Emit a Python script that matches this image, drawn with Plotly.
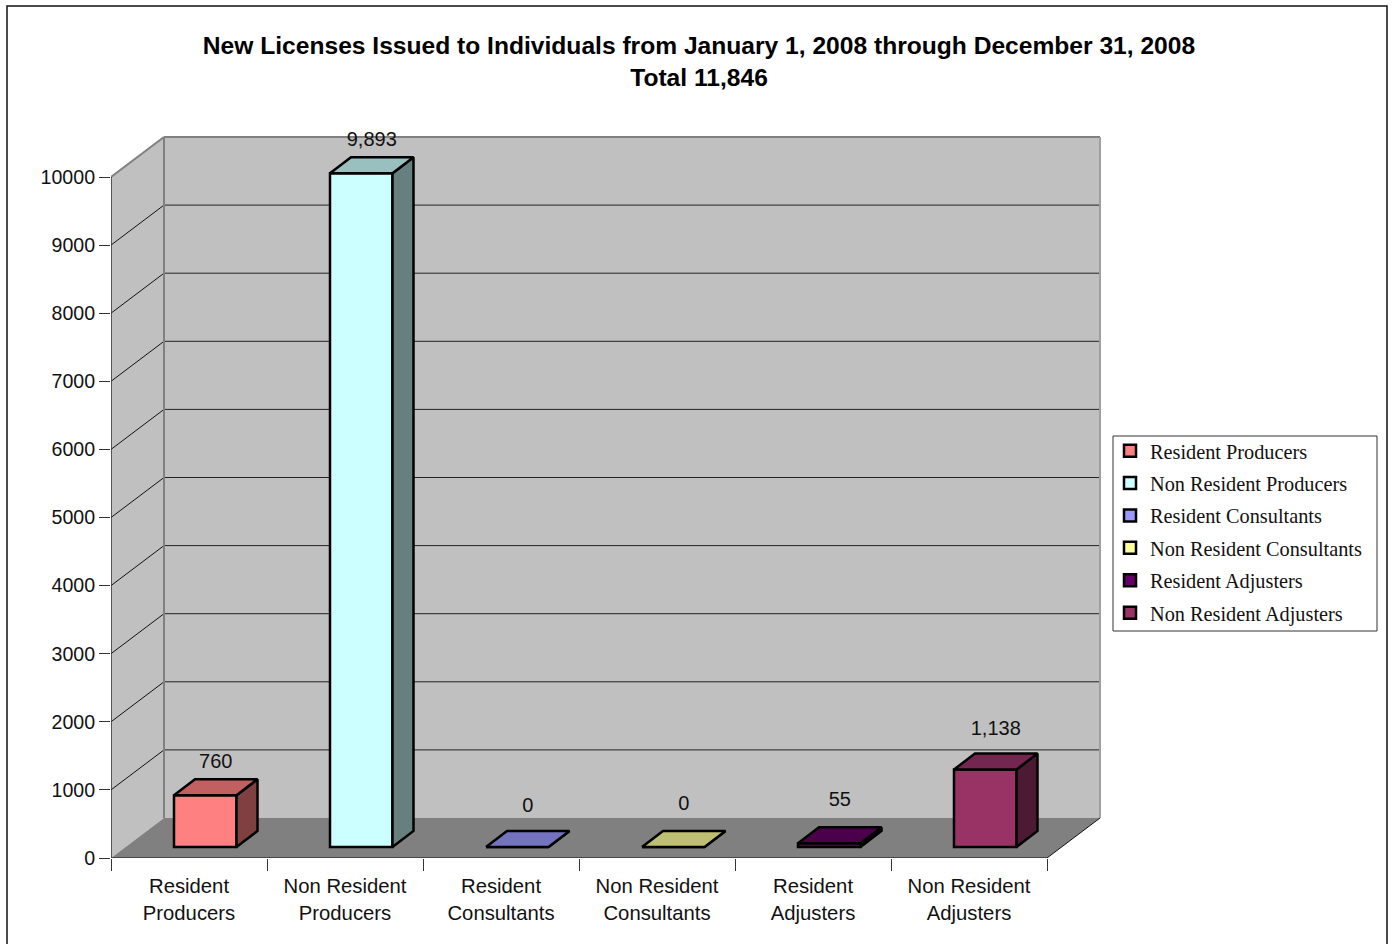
import plotly.graph_objects as go

title_lines = ["New Licenses Issued to Individuals from January 1, 2008 through December 31, 2008", "Total 11,846"]
categories = ["Resident Producers", "Non Resident Producers", "Resident Consultants",
              "Non Resident Consultants", "Resident Adjusters", "Non Resident Adjusters"]
tick_labels = ["Resident<br>Producers", "Non Resident<br>Producers", "Resident<br>Consultants",
               "Non Resident<br>Consultants", "Resident<br>Adjusters", "Non Resident<br>Adjusters"]
values = [760, 9893, 0, 0, 55, 1138]
value_labels = ["760", "9,893", "0", "0", "55", "1,138"]
front_colors = ["#FF8080", "#CCFFFF", "#9999FF", "#FFFF99", "#660066", "#993366"]
top_colors = ["#C06060", "#99BFBF", "#7373BF", "#BFBF73", "#4C004C", "#732650"]
side_colors = ["#804040", "#667F7F", "#4D4D80", "#80804D", "#330033", "#4D1A33"]
y_ticks = list(range(0, 11000, 1000))

# geometry of the pseudo-3D projection
W, H = 1392, 944
PX_X = 156.0            # pixels per category
PX_Y = 0.0681           # pixels per value unit
L, B = 111, 858
R_EDGE, T_EDGE = 1105, 130
xmax = (R_EDGE - L) / PX_X
ymax = (B - T_EDGE) / PX_Y
WALL_DX, WALL_DY = 53 / PX_X, 40 / PX_Y
BAR_W = 62.5 / PX_X
BAR_X0 = 63 / PX_X
BAR_DX, BAR_DY = 21 / PX_X, 16 / PX_Y
BASE = 11 / PX_Y
label_gap_px = [16, 16, 24, 26, 26, 24]
N = len(categories)


def poly(x, y, fill, line=None, width=0):
    return dict(type="path", xref="x", yref="y", layer="below",
                path="M " + " L ".join(f"{a},{b}" for a, b in zip(x, y)) + " Z",
                fillcolor=fill, line=dict(color=line or fill, width=width))


def seg(x0, y0, x1, y1, color, width):
    return dict(type="line", xref="x", yref="y", layer="below", x0=x0, y0=y0, x1=x1, y1=y1,
                line=dict(color=color, width=width))


ytop = y_ticks[-1]
shapes = []
# chart frame (open at the bottom, it runs off the page)
plot_w, plot_h = R_EDGE - L, B - T_EDGE
px = lambda v: (v - L) / plot_w
py = lambda v: (B - v) / plot_h
shapes.append(dict(type="path", xref="paper", yref="paper", layer="below",
                   path=f"M {px(7)},{py(950)} L {px(7)},{py(6)} L {px(1387)},{py(6)} L {px(1387)},{py(950)}",
                   line=dict(color="#111111", width=1.5)))
# legend frame
shapes.append(dict(type="rect", xref="paper", yref="paper", layer="below",
                   x0=px(1113), x1=px(1377), y0=py(631), y1=py(436),
                   fillcolor="white", line=dict(color="#333333", width=1)))
# walls and floor
shapes.append(poly([0, WALL_DX, WALL_DX, 0], [0, WALL_DY, ytop + WALL_DY, ytop], "#C0C0C0"))
shapes.append(poly([WALL_DX, N + WALL_DX, N + WALL_DX, WALL_DX],
                   [WALL_DY, WALL_DY, ytop + WALL_DY, ytop + WALL_DY], "#C0C0C0"))
shapes.append(poly([0, N, N + WALL_DX, WALL_DX], [0, 0, WALL_DY, WALL_DY], "#808080"))
# gridlines
for t in y_ticks[1:-1]:
    shapes.append(seg(0, t, WALL_DX, t + WALL_DY, "#111111", 1))
    shapes.append(seg(WALL_DX, t + WALL_DY, N + WALL_DX, t + WALL_DY, "#222222", 1))
# wall edges
shapes.append(seg(0, ytop, WALL_DX, ytop + WALL_DY, "#808080", 2))
shapes.append(seg(WALL_DX, ytop + WALL_DY, N + WALL_DX, ytop + WALL_DY, "#808080", 2))
shapes.append(seg(WALL_DX, WALL_DY, WALL_DX, ytop + WALL_DY, "#808080", 2))
shapes.append(seg(N + WALL_DX, WALL_DY, N + WALL_DX, ytop + WALL_DY, "#A0A0A0", 2))
shapes.append(seg(N, 0, N + WALL_DX, WALL_DY, "#111111", 1))
# axis lines
shapes.append(seg(0, 0, 0, ytop, "#333333", 1.5))
shapes.append(seg(0, 0, N, 0, "#333333", 1.5))

fig = go.Figure()

for i, (cat, val, c) in enumerate(zip(categories, values, front_colors)):
    x0 = i + BAR_X0
    fig.add_bar(x=[x0 + BAR_W / 2], y=[val], base=[BASE], width=[BAR_W], name=cat,
                legendgroup=cat, marker=dict(color=c, line=dict(color="black", width=2.5)),
                hoverinfo="skip", cliponaxis=False)

for i, val in enumerate(values):
    x0 = i + BAR_X0
    x1 = x0 + BAR_W
    top = BASE + val
    fig.add_scatter(x=[x1, x1 + BAR_DX, x1 + BAR_DX, x1, x1],
                    y=[BASE, BASE + BAR_DY, top + BAR_DY, top, BASE],
                    mode="lines", fill="toself", fillcolor=side_colors[i],
                    line=dict(color="black", width=2.5), showlegend=False, hoverinfo="skip")
    fig.add_scatter(x=[x0, x1, x1 + BAR_DX, x0 + BAR_DX, x0],
                    y=[top, top, top + BAR_DY, top + BAR_DY, top],
                    mode="lines", fill="toself", fillcolor=top_colors[i],
                    line=dict(color="black", width=2.5), showlegend=False, hoverinfo="skip")

fig.add_scatter(x=[i + BAR_X0 + BAR_W / 2 + BAR_DX / 2 for i in range(N)],
                y=[BASE + v + BAR_DY + g / PX_Y for v, g in zip(values, label_gap_px)],
                mode="text", text=value_labels, textposition="middle center",
                textfont=dict(family="Liberation Sans", size=20, color="#111111"),
                showlegend=False, hoverinfo="skip", cliponaxis=False)

fig.update_layout(
    width=W, height=H, autosize=False,
    margin=dict(l=L, r=W - R_EDGE, t=T_EDGE, b=H - B, pad=0),
    paper_bgcolor="white", plot_bgcolor="rgba(0,0,0,0)",
    barmode="overlay", shapes=shapes,
    title=dict(text="<br>".join(f"<b>{t}</b>" for t in title_lines),
               x=699 / W, xanchor="center", y=1 - 54 / H, yanchor="middle",
               font=dict(family="Liberation Sans", size=24.6, color="black")),
    xaxis=dict(range=[0, xmax], tickmode="array", tickvals=[i + 0.5 for i in range(N)],
               ticktext=tick_labels, ticks="", showgrid=False, zeroline=False, showline=False,
               ticklabelstandoff=14, automargin=False,
               tickfont=dict(family="Liberation Sans", size=20.3, color="#111111"),
               minor=dict(tickmode="array", tickvals=list(range(N + 1)), ticks="outside",
                          ticklen=12, tickwidth=1, tickcolor="#333333", showgrid=False)),
    yaxis=dict(range=[0, ymax], tickmode="array", tickvals=y_ticks,
               ticktext=[str(t) for t in y_ticks], ticks="outside", ticklen=11,
               tickwidth=1, tickcolor="#333333", showgrid=False, zeroline=False, showline=False,
               automargin=False, tickfont=dict(family="Liberation Sans", size=19.6, color="#111111")),
    legend=dict(x=px(1110), xanchor="left", y=py(431), yanchor="top", bgcolor="rgba(0,0,0,0)",
                borderwidth=0, tracegroupgap=3, traceorder="grouped",
                font=dict(family="Liberation Serif", size=20.3, color="#111111")),
)

fig.write_html("out.html", config={"displayModeBar": False},
               post_script="document.body.style.margin='0';document.body.style.overflow='hidden';")
